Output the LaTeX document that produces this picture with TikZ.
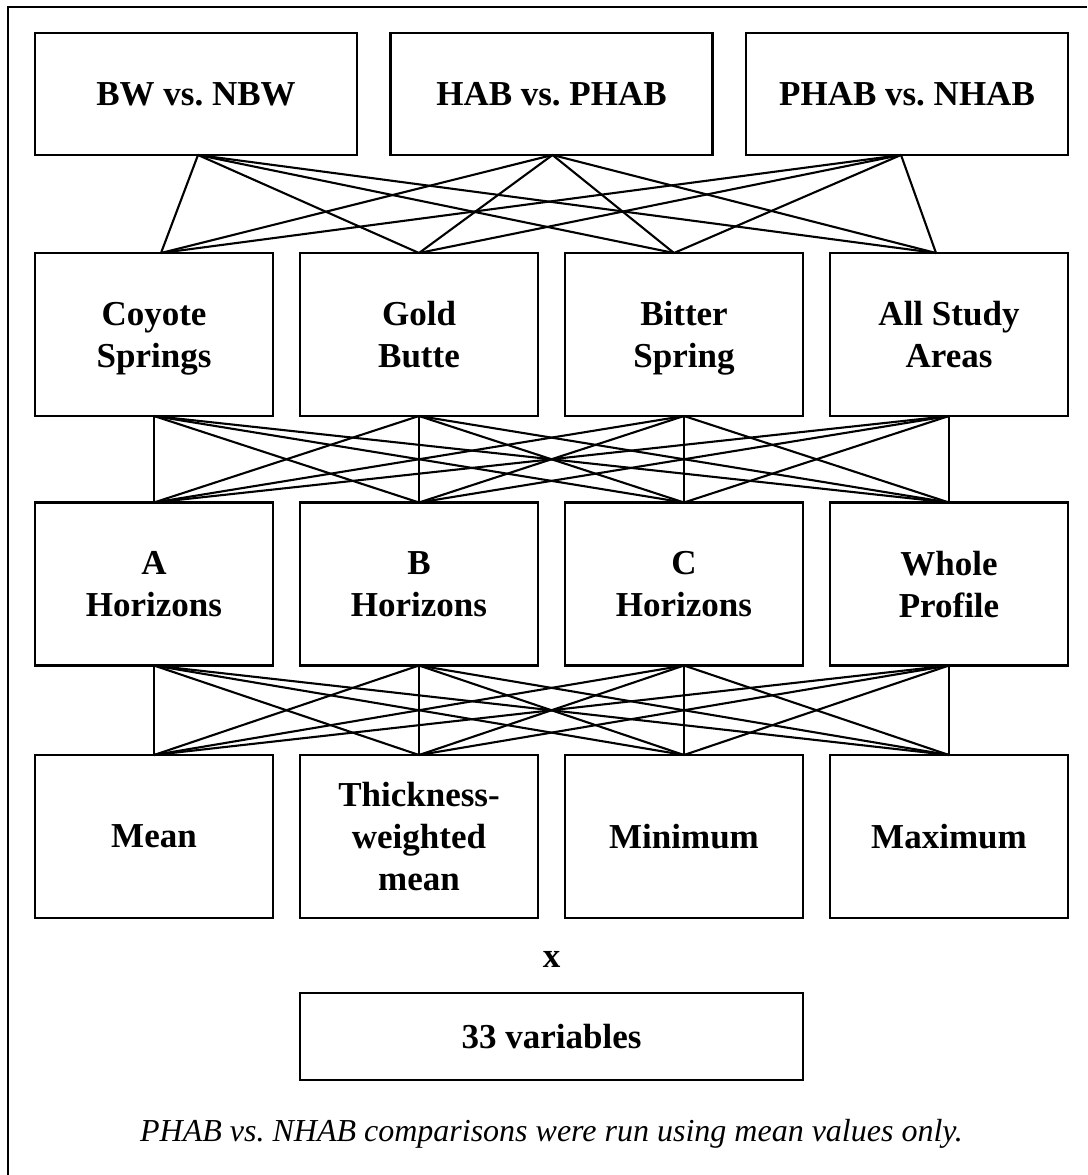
\documentclass[tikz,border=0pt]{standalone}
\usepackage{fontspec}
\setmainfont{Liberation Serif}
\usetikzlibrary{calc}
\frenchspacing

\begin{document}
\begin{tikzpicture}[x=1pt,y=-1pt,
    box/.style={draw,line width=2.6pt,inner sep=0pt,outer sep=0pt,align=center,
      text depth=0pt,font=\fontsize{35}{42}\selectfont\bfseries},
    wide/.style={box,minimum width=322pt,minimum height=122pt},
    cell/.style={box,minimum width=238pt,minimum height=163pt},
    link/.style={line width=2.1pt}]
    \useasboundingbox (0,0) rectangle (1087,1175);
    % outer frame, only top and left edge show
    \draw[line width=2.6pt] (8,1175) -- (8,7) -- (1087,7);

    % comparisons
    \node[wide] (bw)   at (196,94)   {BW vs. NBW};
    \node[wide] (hab)  at (551.5,94) {HAB vs. PHAB};
    \node[wide] (phab) at (907,94)   {PHAB vs. NHAB};

    % study areas
    \node[cell] (coyote)   at (154,334.5) {Coyote\\Springs};
    \node[cell] (gold)     at (419,334.5) {Gold\\Butte};
    \node[cell] (bitter)   at (684,334.5) {Bitter\\Spring};
    \node[cell] (allareas) at (949,334.5) {All Study\\Areas};

    % horizons
    \node[cell] (ahor)  at (154,584) {A\\Horizons};
    \node[cell] (bhor)  at (419,584) {B\\Horizons};
    \node[cell] (chor)  at (684,584) {C\\Horizons};
    \node[cell] (whole) at (949,584) {Whole\\Profile};

    % statistics
    \node[cell] (mean)    at (154,836.5) {Mean};
    \node[cell] (twmean)  at (419,836.5) {Thickness-\\weighted\\mean};
    \node[cell] (minimum) at (684,836.5) {Minimum};
    \node[cell] (maximum) at (949,836.5) {Maximum};

    \node[font=\fontsize{35}{42}\selectfont\bfseries] (times) at (551.5,959) {x};
    \node[box,minimum width=503pt,minimum height=87pt] (vars) at (551.5,1036.5) {33 variables};

    \node[font=\fontsize{32}{38}\selectfont\itshape] (note) at (551.5,1134)
      {PHAB vs. NHAB comparisons were run using mean values only.};

    % every box of one row joins every box of the next
    \foreach \t/\tx in {bw/2,hab/1,phab/-6}
      \foreach \s/\sx in {coyote/7,gold/0,bitter/-10,allareas/-13}
        \draw[link] ([xshift=\tx pt]\t.south) -- ([xshift=\sx pt]\s.north);
    \foreach \t in {coyote,gold,bitter,allareas}
      \foreach \s in {ahor,bhor,chor,whole}
        \draw[link] (\t.south) -- (\s.north);
    \foreach \t in {ahor,bhor,chor,whole}
      \foreach \s in {mean,twmean,minimum,maximum}
        \draw[link] (\t.south) -- (\s.north);
  \end{tikzpicture}
\end{document}
